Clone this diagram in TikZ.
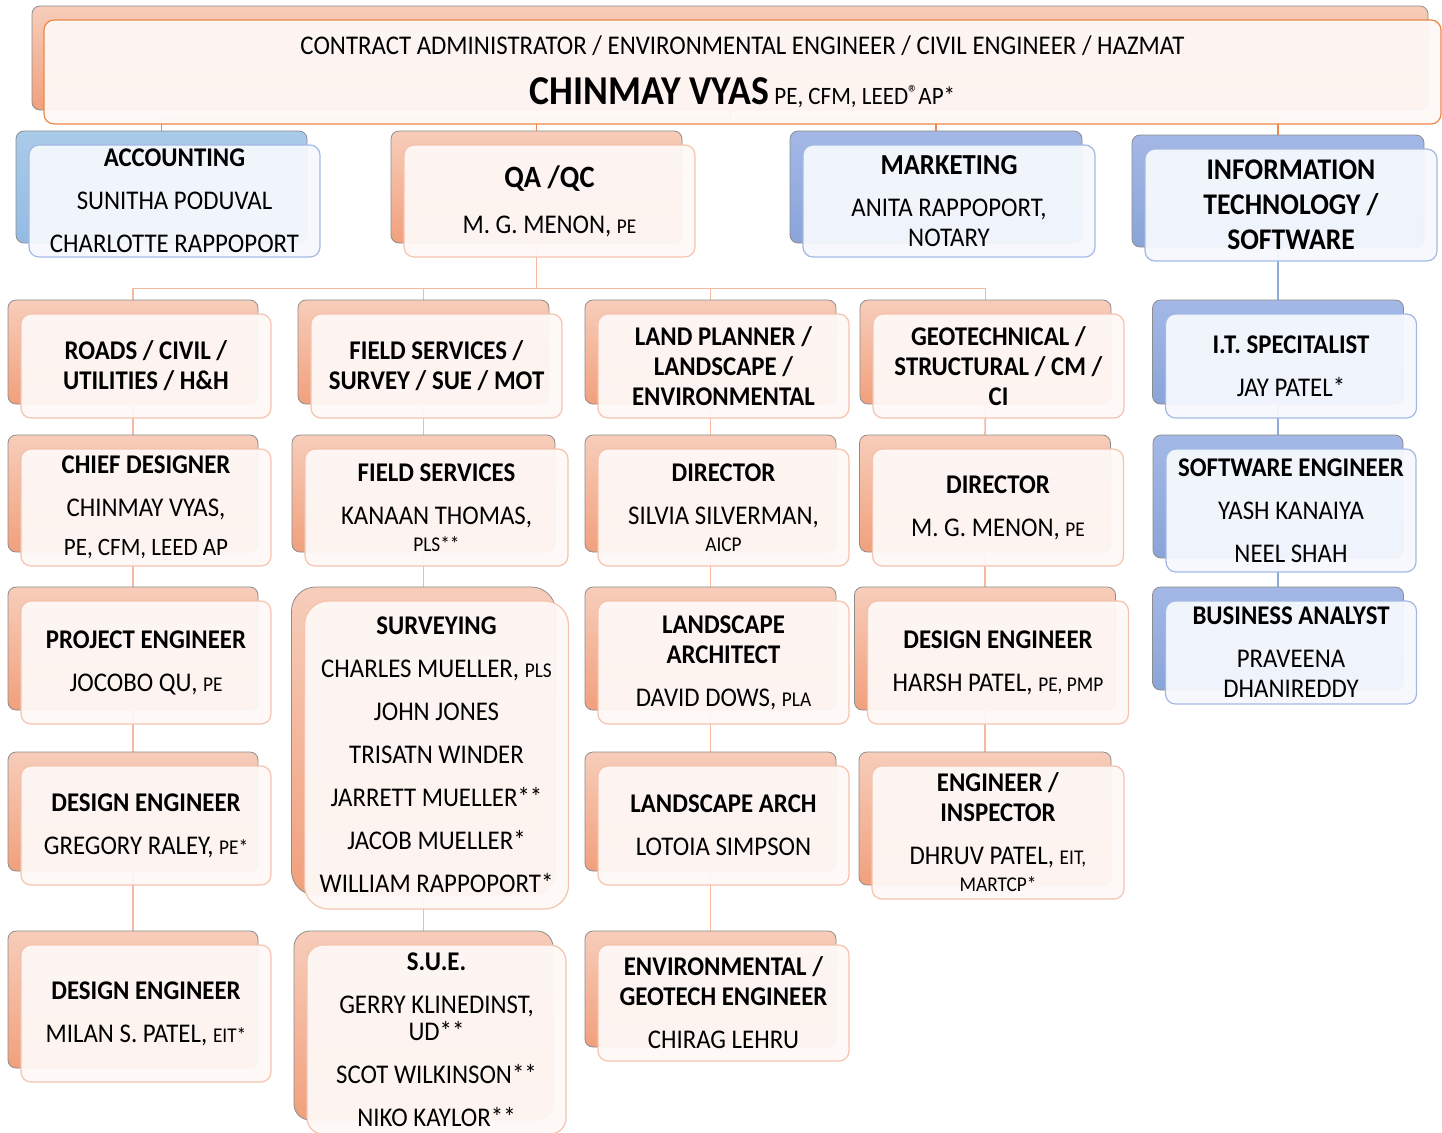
\documentclass[tikz,border=0pt]{standalone}
\usepackage{fontspec}
\setmainfont{Carlito}[FakeStretch=0.92]
\usepackage{tikz}
\usetikzlibrary{backgrounds}

\definecolor{salmonT}{HTML}{F7CDBA}
\definecolor{salmonB}{HTML}{F1A07C}
\definecolor{skyT}{HTML}{A9CBEA}
\definecolor{skyB}{HTML}{93BBE3}
\definecolor{blueT}{HTML}{A3B8E6}
\definecolor{blueB}{HTML}{8AA4D9}
\definecolor{frontor}{HTML}{F5C3AE}
\definecolor{frontbl}{HTML}{A3B9E4}
\definecolor{fillor}{HTML}{FEF8F6}
\definecolor{fillbl}{HTML}{F5F8FD}
\definecolor{linkor}{HTML}{F4B9A0}
\definecolor{linktop}{HTML}{EE8747}
\definecolor{linkbl}{HTML}{8FAADC}

\newcommand{\sm}[1]{{\fontsize{10.5}{12}\selectfont #1}}

\begin{document}
\begin{tikzpicture}[
    x=0.5pt, y=-0.5pt,
    sz/.style 2 args={minimum width=#1*0.5pt, minimum height=#2*0.5pt},
    oback/.style={rectangle, rounded corners=4pt, draw=black!45, line width=0.4pt, top color=salmonT, bottom color=salmonB, inner sep=0pt},
    bback/.style={rectangle, rounded corners=4pt, draw=black!45, line width=0.4pt, top color=blueT, bottom color=blueB, inner sep=0pt},
    sback/.style={bback, top color=skyT, bottom color=skyB},
    ofront/.style={rectangle, rounded corners=5pt, draw=frontor, line width=0.6pt, fill=fillor, fill opacity=0.95, text opacity=1, align=center, inner sep=0pt, font=\fontsize{13.5}{15}\selectfont},
    bfront/.style={ofront, draw=frontbl, fill=fillbl},
    link/.style={draw=linkor, line width=0.8pt},
    toplink/.style={draw=linktop, line width=0.7pt},
    bluelink/.style={draw=linkbl, line width=0.8pt}
]
\useasboundingbox (0,0) rectangle (1442,1132);

% Head
\node[oback, sz={1396}{104}] (top-b) at (730,58) {};
\node[ofront, sz={1397}{104}, draw=linktop] (top) at (742.5,72) {CONTRACT ADMINISTRATOR / ENVIRONMENTAL ENGINEER / CIVIL ENGINEER / HAZMAT\\[10pt]{\bfseries\fontsize{20.5}{24}\selectfont CHINMAY VYAS} {\fontsize{12.5}{14}\selectfont PE, CFM, LEED\raisebox{2pt}{\fontsize{11}{12}\selectfont ®}AP*}};

% Departments
\node[sback, sz={291}{112}] (acct-b) at (161.5,187) {};
\node[bfront, sz={291}{112}] (acct) at (174.5,201) {\textbf{ACCOUNTING}\\[6.5pt]SUNITHA PODUVAL\\[6.5pt]CHARLOTTE RAPPOPORT};
\node[oback, sz={291}{112}] (qa-b) at (536.5,187) {};
\node[ofront, sz={291}{112}] (qa) at (549.5,201) {{\fontsize{15.5}{17}\selectfont\textbf{QA /QC}}\\[8pt]M. G. MENON, \sm{PE}};
\node[bback, sz={292}{112}] (mkt-b) at (936,187) {};
\node[bfront, sz={292}{112}] (mkt) at (949,201) {{\fontsize{14.5}{17}\selectfont\textbf{MARKETING}}\\[6pt]ANITA RAPPOPORT,\\NOTARY};
\node[bback, sz={292}{112}] (it-b) at (1278,191) {};
\node[bfront, sz={292}{112}, font=\fontsize{15}{17.5}\selectfont\bfseries] (it) at (1291,205) {INFORMATION\\TECHNOLOGY /\\SOFTWARE};

% Groups under QA/QC
\node[oback, sz={250}{104}] (roads-b) at (133,352) {};
\node[ofront, sz={250}{104}] (roads) at (146,366) {\textbf{ROADS / CIVIL /}\\\textbf{UTILITIES / H\&H}};
\node[oback, sz={251}{104}] (fsurv-b) at (423.5,352) {};
\node[ofront, sz={251}{104}] (fsurv) at (436.5,366) {\textbf{FIELD SERVICES /}\\\textbf{SURVEY / SUE / MOT}};
\node[oback, sz={251}{104}] (land-b) at (710.5,352) {};
\node[ofront, sz={251}{104}] (land) at (723.5,366) {\textbf{LAND PLANNER /}\\\textbf{LANDSCAPE /}\\\textbf{ENVIRONMENTAL}};
\node[oback, sz={251}{104}] (geo-b) at (985.5,352) {};
\node[ofront, sz={251}{104}] (geo) at (998.5,366) {\textbf{GEOTECHNICAL /}\\\textbf{STRUCTURAL / CM /}\\\textbf{CI}};

% Column 1
\node[oback, sz={250}{117}] (chief-b) at (133,493.5) {};
\node[ofront, sz={250}{117}] (chief) at (146,507.5) {\textbf{CHIEF DESIGNER}\\[6.5pt]CHINMAY VYAS,\\[4.5pt]{\fontsize{12.5}{15}\selectfont PE, CFM, LEED AP}};
\node[oback, sz={250}{123}] (proj-b) at (133,648.5) {};
\node[ofront, sz={250}{123}] (proj) at (146,662.5) {\textbf{PROJECT ENGINEER}\\[6.5pt]JOCOBO QU, \sm{PE}};
\node[oback, sz={250}{119}] (greg-b) at (133,811.5) {};
\node[ofront, sz={250}{119}] (greg) at (146,825.5) {\textbf{DESIGN ENGINEER}\\[6.5pt]GREGORY RALEY, \sm{PE*}};
\node[oback, sz={250}{137}] (milan-b) at (133,999.5) {};
\node[ofront, sz={250}{137}] (milan) at (146,1013.5) {\textbf{DESIGN ENGINEER}\\[6.5pt]MILAN S. PATEL, \sm{EIT*}};

% Column 2
\node[oback, sz={263}{117}] (fserv-b) at (423.5,493.5) {};
\node[ofront, sz={263}{117}] (fserv) at (436.5,507.5) {\textbf{FIELD SERVICES}\\[6.5pt]KANAAN THOMAS,\\[-1.5pt]\sm{PLS**}};
\node[oback, sz={264}{308}, rounded corners=12pt] (surv-b) at (423.5,741) {};
\node[ofront, sz={264}{308}, rounded corners=12pt] (surv) at (436.5,755) {\textbf{SURVEYING}\\[6.5pt]CHARLES MUELLER, \sm{PLS}\\[6.5pt]JOHN JONES\\[6.5pt]TRISATN WINDER\\[6.5pt]JARRETT MUELLER**\\[6.5pt]JACOB MUELLER*\\[6.5pt]WILLIAM RAPPOPORT*};
\node[oback, sz={259}{189}, rounded corners=8pt] (sue-b) at (423.5,1025.5) {};
\node[ofront, sz={259}{189}, rounded corners=8pt] (sue) at (436.5,1039.5) {\textbf{S.U.E.}\\[6.5pt]GERRY KLINEDINST,\\[-1.5pt]UD**\\[6.5pt]SCOT WILKINSON**\\[6.5pt]NIKO KAYLOR**};

% Column 3
\node[oback, sz={251}{117}] (dirs-b) at (710.5,493.5) {};
\node[ofront, sz={251}{117}] (dirs) at (723.5,507.5) {\textbf{DIRECTOR}\\[6.5pt]SILVIA SILVERMAN,\\[-1.5pt]\sm{AICP}};
\node[oback, sz={251}{123}] (larch-b) at (710.5,648.5) {};
\node[ofront, sz={251}{123}] (larch) at (723.5,662.5) {\textbf{LANDSCAPE}\\\textbf{ARCHITECT}\\[6.5pt]DAVID DOWS, \sm{PLA}};
\node[oback, sz={251}{119}] (larch2-b) at (710.5,811.5) {};
\node[ofront, sz={251}{119}] (larch2) at (723.5,825.5) {\textbf{LANDSCAPE ARCH}\\[6.5pt]LOTOIA SIMPSON};
\node[oback, sz={251}{116}] (env-b) at (710.5,989) {};
\node[ofront, sz={251}{116}] (env) at (723.5,1003) {\textbf{ENVIRONMENTAL /}\\\textbf{GEOTECH ENGINEER}\\[6.5pt]CHIRAG LEHRU};

% Column 4
\node[oback, sz={251}{117}] (dirm-b) at (985,493.5) {};
\node[ofront, sz={251}{117}] (dirm) at (998,507.5) {\textbf{DIRECTOR}\\[6.5pt]M. G. MENON, \sm{PE}};
\node[oback, sz={261}{123}] (deseng-b) at (985,648.5) {};
\node[ofront, sz={261}{123}] (deseng) at (998,662.5) {\textbf{DESIGN ENGINEER}\\[6.5pt]HARSH PATEL, \sm{PE, PMP}};
\node[oback, sz={252}{133}] (insp-b) at (985,818.5) {};
\node[ofront, sz={252}{133}] (insp) at (998,832.5) {\textbf{ENGINEER /}\\\textbf{INSPECTOR}\\[6.5pt]DHRUV PATEL, \sm{EIT,}\\[-1.5pt]\sm{MARTCP*}};

% IT column
\node[bback, sz={251}{104}] (itspec-b) at (1278,352) {};
\node[bfront, sz={251}{104}] (itspec) at (1291,366) {\textbf{I.T. SPECITALIST}\\[6.5pt]JAY PATEL*};
\node[bback, sz={250}{123}] (sweng-b) at (1278,496.5) {};
\node[bfront, sz={250}{123}] (sweng) at (1291,510.5) {\textbf{SOFTWARE ENGINEER}\\[6.5pt]YASH KANAIYA\\[6.5pt]NEEL SHAH};
\node[bback, sz={251}{103}] (ba-b) at (1278,638.5) {};
\node[bfront, sz={251}{103}] (ba) at (1291,652.5) {\textbf{BUSINESS ANALYST}\\[6.5pt]PRAVEENA\\DHANIREDDY};

% Connectors
\begin{scope}[on background layer]
\foreach \d in {acct, qa, mkt, it}
    \draw[toplink] (top-b.south) -- ++(0,8) -| (\d-b.north);
\foreach \g in {roads, fsurv, land, geo}
    \draw[link] (qa-b.south) -- ++(0,45) -| (\g-b.north);
\foreach \a/\b in {roads/chief, chief/proj, proj/greg, greg/milan,
                   fsurv/fserv, fserv/surv, surv/sue,
                   land/dirs, dirs/larch, larch/larch2, larch2/env,
                   geo/dirm, dirm/deseng, deseng/insp}
    \draw[link] (\a-b.south) -- (\b-b.north);
\foreach \a/\b in {it/itspec, itspec/sweng, sweng/ba}
    \draw[bluelink] (\a-b.south) -- (\b-b.north);
\end{scope}

\end{tikzpicture}
\end{document}
